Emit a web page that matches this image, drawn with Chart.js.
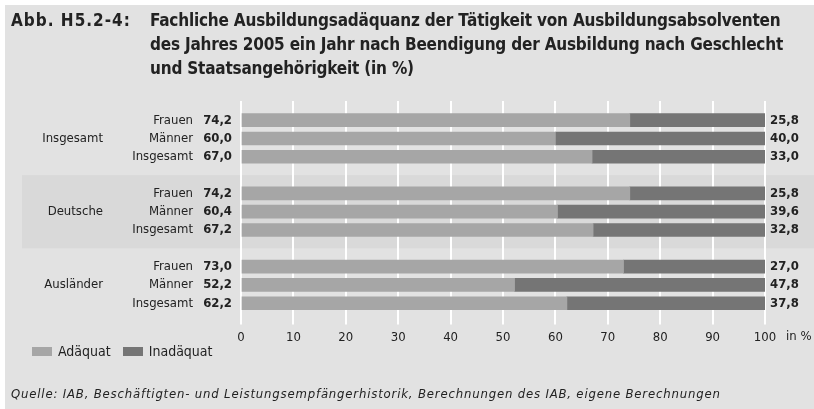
<!DOCTYPE html>
<html>
<head>
<meta charset="utf-8">
<script src="https://cdn.jsdelivr.net/npm/chart.js@4"></script>
<style>
  html, body { margin: 0; padding: 0; background: #ffffff; }
  #wrap { position: relative; width: 814px; height: 409px; overflow: hidden; }
  #panel { position: absolute; left: 5px; top: 5px; width: 809px; height: 404px; background: #e2e2e2; }
  #c { position: absolute; left: 0; top: 0; }
  .t { position: absolute; font-family: 'Liberation Sans Narrow', 'DejaVu Sans Condensed', sans-serif; color: #222; white-space: nowrap; }
  #abb { left: 11px; top: 8px; font-size: 17px; font-weight: bold; line-height: 24px; letter-spacing: 1px; }
  #title { left: 150px; top: 8px; font-size: 17px; font-weight: bold; line-height: 24px; letter-spacing: -0.2px; }
  #src { left: 11px; top: 386px; font-size: 13px; font-style: italic; letter-spacing: 0.82px; }
  #legend { left: 32px; top: 343px; font-size: 14px; }
  .sw { display: inline-block; width: 20px; height: 9px; margin-right: 6px; vertical-align: 0px; }
</style>
</head>
<body>
<div id="wrap">
  <div id="panel"></div>
  <canvas id="c" width="814" height="409"></canvas>
  <div class="t" id="abb">Abb. H5.2-4:</div>
  <div class="t" id="title">Fachliche Ausbildungsadäquanz der Tätigkeit von Ausbildungsabsolventen<br>des Jahres 2005 ein Jahr nach Beendigung der Ausbildung nach Geschlecht<br>und Staatsangehörigkeit (in %)</div>
  <div class="t" id="legend"><span class="sw" style="background:#a6a6a6"></span>Adäquat&nbsp;&nbsp;&nbsp;<span class="sw" style="background:#757575"></span>Inadäquat</div>
  <div class="t" id="src">Quelle: IAB, Beschäftigten- und Leistungsempfängerhistorik, Berechnungen des IAB, eigene Berechnungen</div>
</div>
<script>
const groups = ['Insgesamt', 'Deutsche', 'Ausländer'];
const subgroups = ['Frauen', 'Männer', 'Insgesamt'];
const adaequat = [
  [74.2, 60.0, 67.0],
  [74.2, 60.4, 67.2],
  [73.0, 52.2, 62.2]
];
const inadaequat = [
  [25.8, 40.0, 33.0],
  [25.8, 39.6, 32.8],
  [27.0, 47.8, 37.8]
];
const xTicks = [0, 10, 20, 30, 40, 50, 60, 70, 80, 90, 100];

const FONT = "'Liberation Sans Narrow', 'DejaVu Sans Condensed', sans-serif";
const fmt = v => v.toFixed(1).replace('.', ',');

// build rows with a gap row between groups
const labels = [], dA = [], dI = [], rowInfo = [];
groups.forEach((g, gi) => {
  if (gi > 0) { labels.push(''); dA.push(null); dI.push(null); rowInfo.push(null); }
  subgroups.forEach((s, si) => {
    labels.push(g + ' ' + s);
    dA.push(adaequat[gi][si]);
    dI.push(inadaequat[gi][si]);
    rowInfo.push({ g: gi, s: si });
  });
});

const labelPlugin = {
  id: 'labels',
  beforeDraw(chart) {
    const ctx = chart.ctx, y = chart.scales.y;
    const top = y.getPixelForValue(3), bot = y.getPixelForValue(7);
    ctx.save();
    ctx.fillStyle = '#d9d9d9';
    ctx.fillRect(22, top, 814 - 22, bot - top);
    ctx.restore();
  },
  beforeDatasetsDraw(chart) {
    const ctx = chart.ctx, x = chart.scales.x, area = chart.chartArea;
    ctx.save();
    ctx.strokeStyle = '#ffffff';
    ctx.lineWidth = 2;
    xTicks.forEach(t => {
      const px = Math.round(x.getPixelForValue(t));
      ctx.beginPath();
      ctx.moveTo(px, area.top - 10);
      ctx.lineTo(px, area.top);
      ctx.stroke();
    });
    ctx.restore();
  },
  afterDraw(chart) {
    const ctx = chart.ctx, y = chart.scales.y, x = chart.scales.x;
    ctx.save();
    ctx.fillStyle = '#222';
    ctx.textBaseline = 'middle';
    rowInfo.forEach((r, i) => {
      if (!r) return;
      const py = y.getPixelForValue(i);
      ctx.font = '13px ' + FONT;
      ctx.textAlign = 'right';
      ctx.fillText(subgroups[r.s], 193, py);
      if (r.s === 1) ctx.fillText(groups[r.g], 103, py);
      ctx.font = 'bold 13px ' + FONT;
      ctx.fillText(fmt(adaequat[r.g][r.s]), 232, py);
      ctx.textAlign = 'left';
      ctx.fillText(fmt(inadaequat[r.g][r.s]), 770, py);
    });
    ctx.font = '13px ' + FONT;
    ctx.textAlign = 'left';
    const tickY = x.top + 24;
    ctx.fillText('in %', 786, tickY);
    ctx.restore();
  }
};

new Chart(document.getElementById('c'), {
  type: 'bar',
  data: {
    labels: labels,
    datasets: [
      { label: 'Adäquat', data: dA, backgroundColor: '#a6a6a6', barThickness: 13 },
      { label: 'Inadäquat', data: dI, backgroundColor: '#757575', barThickness: 13 }
    ]
  },
  options: {
    indexAxis: 'y',
    responsive: false,
    animation: false,
    devicePixelRatio: 1,
    layout: { padding: { left: 241, right: 49, top: 111, bottom: 59 } },
    plugins: { legend: { display: false }, tooltip: { enabled: false } },
    scales: {
      x: {
        stacked: true, min: 0, max: 100,
        afterBuildTicks: s => { s.ticks = xTicks.map(v => ({ value: v })); },
        grid: { color: '#ffffff', lineWidth: 2, tickLength: 12, drawTicks: true },
        border: { display: false },
        ticks: { color: '#222', font: { family: FONT, size: 13 }, padding: 5, maxRotation: 0 }
      },
      y: {
        stacked: true, display: false
      }
    }
  },
  plugins: [labelPlugin]
});
</script>
</body>
</html>
